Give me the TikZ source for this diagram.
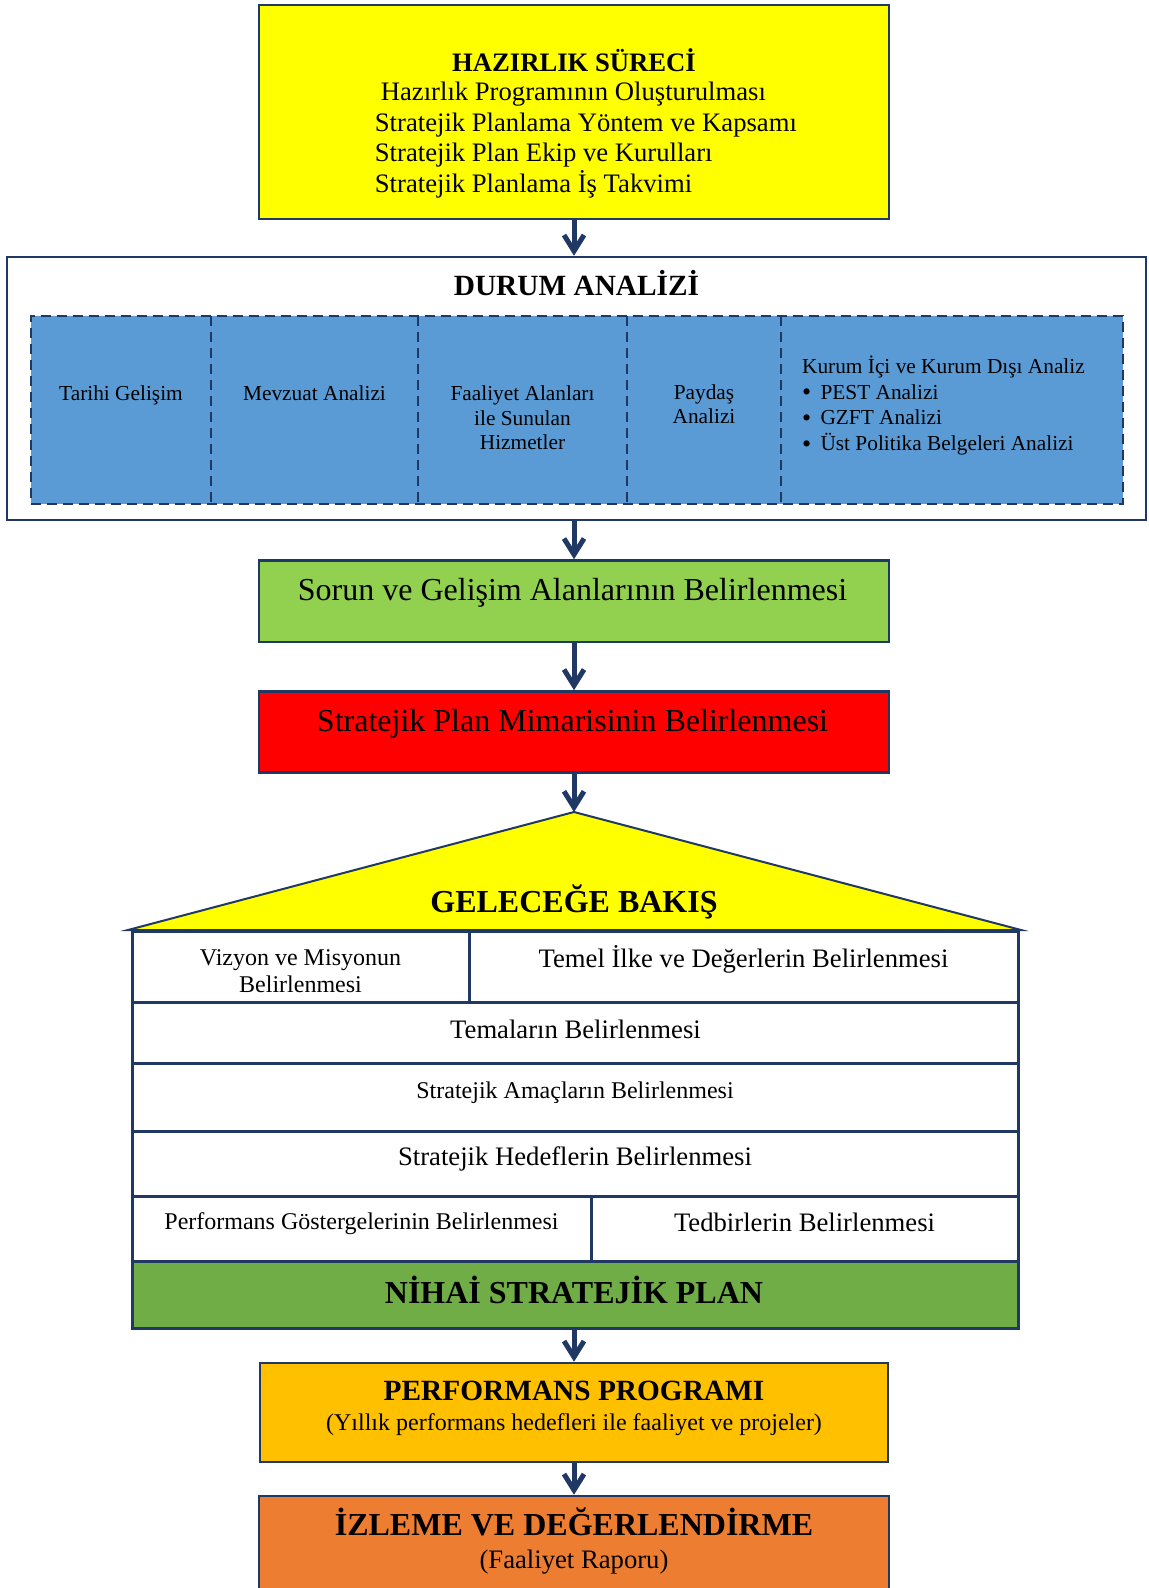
\documentclass[tikz,border=0pt]{standalone}
\usepackage{fontspec}
\setmainfont{Liberation Serif}
\usetikzlibrary{arrows.meta}

\definecolor{navy}{RGB}{31,56,100}
\definecolor{sunyellow}{RGB}{255,255,0}
\definecolor{cellblue}{RGB}{91,155,213}
\definecolor{lightgreen}{RGB}{146,208,80}
\definecolor{darkgreen}{RGB}{112,173,71}
\definecolor{gold}{RGB}{255,192,0}
\definecolor{orangebox}{RGB}{237,125,49}

\newcommand{\bull}{\makebox[9.2pt][l]{\raisebox{-0.8pt}{\fontsize{13}{12.9}\selectfont•}}}

\tikzset{
	box/.style = {draw = navy, line width = 1.25pt, minimum width = 315pt},
	band/.style = {draw = navy, fill = cellblue, line width = 1.2pt, dash pattern = on 5pt off 3pt},
	cut/.style = {draw = navy, line width = 1.1pt, dash pattern = on 5pt off 3pt},
	cell/.style = {draw = navy, fill = white, line width = 1.5pt},
	roof/.style = {draw = navy, fill = sunyellow, line width = 1pt, line join = miter},
	flow/.style = {->, draw = navy, line width = 2.5pt},
	txt/.style = {inner sep = 0pt, anchor = base},
	size8/.style = {font = \fontsize{10.67}{12.5}\selectfont},
	size9/.style = {font = \fontsize{12}{13.3}\selectfont},
	size10/.style = {font = \fontsize{13.33}{15.35}\selectfont},
	size11/.style = {font = \fontsize{14.67}{16.9}\selectfont},
	size12/.style = {font = \fontsize{16}{18.4}\selectfont}
}

\begin{document}
\begin{tikzpicture}[> = {Straight Barb[length = 8pt, width = 10pt]}, x = 0.5pt, y = -0.5pt]

	\useasboundingbox (0, 0) rectangle (1149, 1588);
	\clip (0, 0) rectangle (1149, 1588);

	% Hazirlik sureci (multi-line texts sit on the baseline of their last line)

	\node [box, fill = sunyellow, minimum height = 107pt] (hazirlik) at (574, 112) {};
	\node [txt, size10] (hazirlik-title) at (574, 71.6) {\textbf{HAZIRLIK SÜRECİ}};
	\node [txt, size10, anchor = base west, align = left] (hazirlik-list) at (374.5, 192.7) {\hspace*{3pt}Hazırlık Programının Oluşturulması\\Stratejik Planlama Yöntem ve Kapsamı\\Stratejik Plan Ekip ve Kurulları\\Stratejik Planlama İş Takvimi};

	% Durum analizi

	\node [box, minimum width = 569.5pt, minimum height = 131.5pt] (durum) at (576.5, 388.5) {};
	\node [txt, size11] (durum-title) at (576.5, 296) {\textbf{DURUM ANALİZİ}};
	\node [band, minimum width = 546pt, minimum height = 94pt] (band) at (577, 410) {};
	\foreach \x in {211, 418, 627, 781}
		\draw [cut] (\x, 316) -- (\x, 504);

	\node [txt, size8] (tarihi) at (121, 401) {Tarihi Gelişim};
	\node [txt, size8] (mevzuat) at (314.5, 401) {Mevzuat Analizi};
	\node [txt, font = \fontsize{10.67}{12.1}\selectfont, align = center] (faaliyet) at (522.5, 449.3) {Faaliyet Alanları\\ile Sunulan\\Hizmetler};
	\node [txt, size8, align = center] (paydas) at (704, 424) {Paydaş\\Analizi};
	\node [txt, font = \fontsize{10.67}{12.9}\selectfont, anchor = base west, align = left] (kurum) at (801.7, 450.7) {Kurum İçi ve Kurum Dışı Analiz\\\bull PEST Analizi\\\bull GZFT Analizi\\\bull Üst Politika Belgeleri Analizi};

	% Sorun alanlari ve mimari

	\node [box, fill = lightgreen, minimum height = 40.75pt] (sorun) at (574, 601.25) {};
	\node [txt, size12] (sorun-text) at (572.5, 600) {Sorun ve Gelişim Alanlarının Belirlenmesi};

	\node [box, fill = red, minimum height = 40.5pt] (mimari) at (574, 732) {};
	\node [txt, size12] (mimari-text) at (572.5, 731.7) {Stratejik Plan Mimarisinin Belirlenmesi};

	% Gelecege bakis

	\coordinate (apex) at (574, 812);
	\draw [roof] (128, 930) -- (apex) -- (1021, 930) -- cycle;
	\node [txt, size12] (gelecek) at (574, 912.7) {\textbf{GELECEĞE BAKIŞ}};

	\node [cell, minimum width = 168.5pt, minimum height = 35.5pt] (vizyon) at (300.5, 966.5) {};
	\node [cell, minimum width = 274.5pt, minimum height = 35.5pt] (temel) at (743.5, 966.5) {};
	\node [cell, minimum width = 443pt, minimum height = 30.5pt] (temalar) at (575, 1032.5) {};
	\node [cell, minimum width = 443pt, minimum height = 34pt] (amaclar) at (575, 1097) {};
	\node [cell, minimum width = 443pt, minimum height = 32.5pt] (hedefler) at (575, 1163.5) {};
	\node [cell, minimum width = 229.5pt, minimum height = 32.5pt] (gostergeler) at (361.5, 1228.5) {};
	\node [cell, minimum width = 213.5pt, minimum height = 32.5pt] (tedbirler) at (804.5, 1228.5) {};
	\node [cell, fill = darkgreen, minimum width = 443pt, minimum height = 33.5pt] (nihai) at (575, 1294.5) {};

	\node [txt, size9, align = center] (vizyon-text) at (300.5, 992.3) {Vizyon ve Misyonun\\Belirlenmesi};
	\node [txt, size10] (temel-text) at (743.5, 967.7) {Temel İlke ve Değerlerin Belirlenmesi};
	\node [txt, size10] (temalar-text) at (575.5, 1038.3) {Temaların Belirlenmesi};
	\node [txt, size9] (amaclar-text) at (575, 1098.3) {Stratejik Amaçların Belirlenmesi};
	\node [txt, size10] (hedefler-text) at (575, 1165.7) {Stratejik Hedeflerin Belirlenmesi};
	\node [txt, size9] (gostergeler-text) at (361.5, 1229.3) {Performans Göstergelerinin Belirlenmesi};
	\node [txt, size10] (tedbirler-text) at (804.5, 1231.7) {Tedbirlerin Belirlenmesi};
	\node [txt, size12] (nihai-text) at (574, 1303.3) {\textbf{NİHAİ STRATEJİK PLAN}};

	% Performans ve izleme

	\node [box, fill = gold, minimum width = 314pt, minimum height = 49.5pt] (performans) at (574, 1412.5) {};
	\node [txt, size11] (performans-title) at (574, 1400) {\textbf{PERFORMANS PROGRAMI}};
	\node [txt, size9] (performans-text) at (574, 1430) {(Yıllık performans hedefleri ile faaliyet ve projeler)};

	\node [box, fill = orangebox, minimum height = 72pt] (izleme) at (574, 1568) {};
	\node [txt, size12] (izleme-title) at (574, 1535.7) {\textbf{İZLEME VE DEĞERLENDİRME}};
	\node [txt, size10] (izleme-text) at (574, 1568.3) {(Faaliyet Raporu)};

	% Akis oklari

	\draw [flow] (hazirlik.south) -- (hazirlik.south |- durum.north);
	\draw [flow] (durum.south -| sorun.north) -- (sorun.north);
	\draw [flow] (sorun) -- (mimari);
	\draw [flow] (mimari) -- (apex);
	\draw [flow] (nihai.south -| performans.north) -- (performans.north);
	\draw [flow] (performans) -- (izleme);

\end{tikzpicture}
\end{document}
